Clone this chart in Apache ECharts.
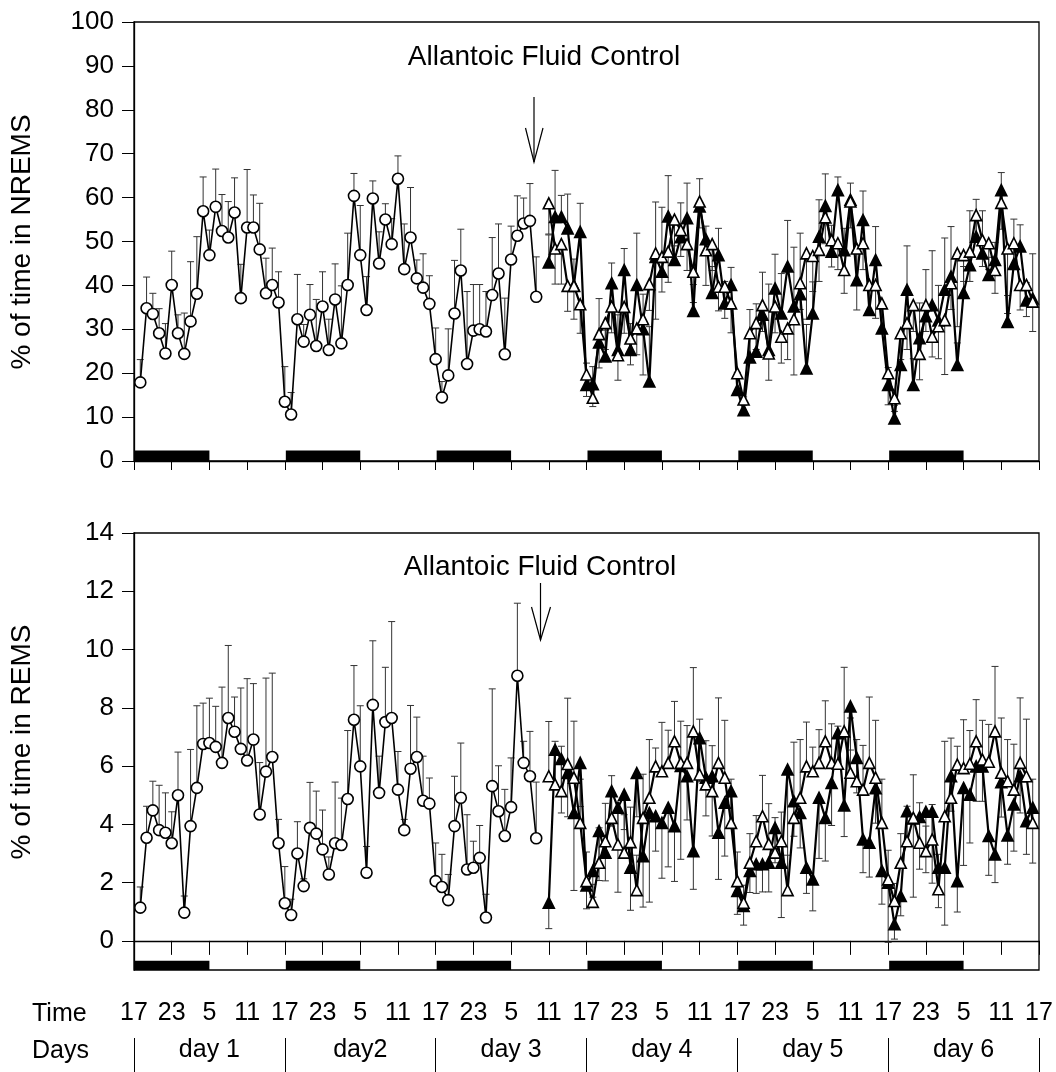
<!DOCTYPE html>
<html><head><meta charset="utf-8">
<script src="https://cdn.jsdelivr.net/npm/echarts@6/dist/echarts.min.js"></script>
<style>html,body{margin:0;padding:0;background:#fff}#c{width:1056px;height:1072px}</style>
</head><body><div id="c"></div><script>
// ---------- DATA ----------
const timeTickLabels = ['17', '23', '5', '11'];
const dayLabels = ['day 1', 'day2', 'day 3', 'day 4', 'day 5', 'day 6'];
const dayStartHours = [0, 24, 48, 72, 96, 120, 144];
const dayMidHours = [12, 36, 60, 84, 108, 132];
const darkStartHours = [0, 24, 48, 72, 96, 120];
const darkLengthHours = 12;
const baselineStartHour = 1;   // circles: hours 1..64
const treatStartHour = 66;     // triangles: hours 66..143
const remsTicks = [0, 2, 4, 6, 8, 10, 12, 14];

// NREMS (% of time) – baseline circles
const nremsBaseline = [17.9,34.8,33.5,29.1,24.5,40.1,29.1,24.4,31.8,38.1,56.9,46.9,57.9,52.4,50.9,56.6,37.1,53.2,53.2,48.2,38.2,40.1,36.1,13.5,10.6,32.3,27.2,33.3,26.2,35.2,25.3,36.8,26.8,40.1,60.4,46.9,34.4,59.8,45.0,55.0,49.4,64.3,43.7,50.9,41.6,39.5,35.8,23.2,14.5,19.5,33.6,43.4,22.1,29.7,30.0,29.5,37.8,42.7,24.3,45.9,51.3,54.1,54.7,37.4];
const nremsBaselineErr = [5.2,7.1,4.7,5.6,6.8,7.7,4.2,9.3,13.6,13.0,7.8,5.7,8.6,8.3,8.2,7.9,7.7,13.2,7.4,10.5,8.0,8.4,7.0,8.0,5.0,10.2,3.9,6.9,10.6,7.9,7.0,8.1,13.1,11.8,5.1,11.3,7.6,4.0,7.2,3.6,5.8,5.2,10.3,11.4,4.2,7.7,6.4,7.1,3.6,10.6,12.1,9.4,16.5,10.5,10.2,9.1,13.1,11.3,12.8,7.6,9.1,5.8,8.5,9.1];
// NREMS – open triangles
const nremsOpen = [58.7,48.4,49.4,39.9,39.9,35.7,19.7,14.4,28.9,31.4,35.2,24.1,35.1,27.9,30.2,32.3,40.3,47.3,46.5,47.7,55.0,52.6,49.4,43.1,59.1,48.0,49.4,39.7,39.7,35.9,20.0,14.0,29.1,31.4,35.5,24.5,35.2,28.3,30.2,32.3,40.5,47.3,46.7,48.1,55.5,50.3,49.6,43.5,59.1,48.4,49.6,40.1,40.1,35.9,20.0,14.3,29.1,31.4,35.5,24.4,35.5,28.3,30.7,32.1,40.5,47.3,46.9,47.7,56.0,50.3,49.6,43.5,58.8,48.4,49.6,40.1,40.1,36.3];
const nremsOpenErr = [7,8.1,9.1,5.8,7.6,6.6,5,2,7.7,6,6,5.7,6,6,6,12.7,6,15,8.0,7.0,6,6,6,7,6,8.0,6,5.5,7.2,6.7,5,1.3,6,6,6,6.1,6,6,7.1,12.7,6,15,8.1,7.2,6,6.1,6,5.3,6,14,6,6,7.6,6,7.2,3,6,6,6,5.9,6,4.6,7.4,12.4,6,16.7,6,6.8,6,6,6,5.3,6,14.8,6,5.7,7.2,6.8];
// NREMS – filled triangles
const nremsFilled = [45.2,55.6,55.6,53.0,40.0,52.2,17.3,17.5,27,23.8,40.5,25.3,43.5,25.3,40.1,30.0,18.1,46.5,43.1,55.7,45.8,51.0,55.3,34.2,58.0,50.5,38.3,46.9,35.9,40.1,16.2,11.6,23.6,24.9,33.3,25.3,39.3,33.6,44.3,35.2,38,21.1,33.6,51.1,58.1,47.7,61.7,48,59.5,41.2,54.9,34.4,45.8,30.2,17.3,9.7,21.9,39.0,17.3,28,33,35.5,32,39.0,42.0,21.9,38.3,44.6,51.1,47.3,42.4,45.8,61.7,31.7,44.9,48.9,36.6,37];
const nremsFilledErr = [6.3,10.6,4.9,7.8,6,6.5,5,4,10,6,4.6,8,4.9,6,11.8,8,12.5,12.5,14.7,9.3,8,7.8,8.0,6,6.3,3,6,6.1,5,4,4,3,10.9,10.9,9.7,15,7.8,9.1,10.5,13.5,13.9,10,7.2,8.4,7.3,6,3,5,3.8,6,6.6,5,7.6,5,4,3,6,10,6,8,10.6,12.4,8,11.8,11.4,5,6,12.4,8.5,9.7,4,4,4.0,6,10.2,4.9,4,10.2];

// REMS (% of time) – baseline circles
const remsBaseline = [1.14,3.54,4.48,3.80,3.71,3.35,5.0,0.97,3.94,5.25,6.76,6.79,6.66,6.11,7.65,7.18,6.59,6.19,6.91,4.34,5.81,6.31,3.35,1.29,0.89,3.0,1.88,3.88,3.68,3.14,2.28,3.35,3.29,4.87,7.59,5.99,2.34,8.1,5.08,7.51,7.65,5.19,3.80,5.91,6.31,4.81,4.71,2.05,1.85,1.40,3.94,4.91,2.45,2.51,2.85,0.80,5.31,4.45,3.60,4.59,9.1,6.11,5.65,3.52];
const remsBaselineErr = [0.71,1.08,1.0,1.54,1.37,1.08,1.48,0.57,2.63,2.82,1.40,1.54,1.39,2.6,2.49,1.19,2.09,2.81,1.92,1.78,3.21,2.88,0.82,1.26,0.54,1.09,0.25,1.56,1.46,1.35,0.6,2.1,1.61,2.35,1.86,2.08,0.9,2.2,1.26,1.88,3.31,1.31,0.37,2.17,1.37,1.53,0.88,1.31,1.12,0.88,1.71,1.88,1.88,0.91,1.11,0.8,3.34,1.56,1.6,1.69,2.49,0.74,1.54,1.93];
// REMS – open triangles
const remsOpen = [5.65,5.37,5.14,6.07,5.6,4.05,2.05,1.34,2.68,3.42,4.22,3.31,3.03,3.39,1.74,4.22,4.91,5.99,5.82,6.11,6.85,6.11,6.11,7.19,5.71,5.37,5.14,6.11,5.6,4.05,2.05,1.31,2.68,3.42,4.28,3.33,3.03,3.42,1.74,4.22,4.91,5.99,5.82,6.11,6.85,6.11,6.08,7.19,5.77,5.48,5.19,6.11,5.6,4.05,2.11,1.37,2.68,3.42,4.22,3.37,3.08,3.48,1.77,4.28,4.91,6.05,5.93,6.08,6.85,6.22,6.15,7.19,5.77,5.48,5.19,6.11,5.65,4.05];
const remsOpenErr = [1.88,1.48,1.54,2.26,1.94,1.5,1.0,0.6,1.2,1.3,1.45,1.2,1.3,1.2,1.2,1.5,2.0,0.63,1.68,1.12,1.37,1.43,1.28,2.19,1.9,1.5,1.56,2.23,1.97,1.5,1.0,0.6,1.0,0.88,1.4,1.38,1.2,1.0,1.2,2.6,2.0,1.52,0.83,1.14,1.39,1.34,1.29,2.2,1.88,1.43,1.52,2.26,1.97,1.5,1.0,0.6,1.0,1.2,1.48,1.37,0.86,1.2,1.2,2.57,2.05,0.63,1.66,1.14,1.43,1.35,1.28,2.23,1.88,1.43,1.56,2.23,1.96,1.5];
// REMS – filled triangles
const remsFilled = [1.31,6.56,6.24,5.76,4.39,6.11,1.9,2.4,3.77,3.03,5.14,4.57,5.02,2.51,5.76,2.91,4.39,4.28,4.05,4.57,3.94,6.0,5.65,3.08,6.96,5.6,5.65,3.71,4.74,5.14,1.71,1.2,2.40,2.63,2.63,2.68,3.88,2.68,5.88,4.79,4.39,2.51,2.11,4.91,4.22,5.42,7.13,4.65,8.05,6.28,3.48,3.37,5.24,2.40,2.0,0.57,1.54,4.45,4.2,4.25,4.43,4.43,2.51,2.51,5.65,2.05,5.25,5.02,5.99,5.99,3.60,2.97,5.45,3.62,4.68,5.65,4.11,4.57];
const remsFilledErr = [0.89,1.2,1.85,1.5,2.66,1.5,0.8,0.9,1.7,0.97,1.2,2.9,1.2,1.46,1.5,1.75,3.06,1.2,1.9,2.03,1.9,3.2,1.5,1.31,1.5,1.31,2.05,1.6,1.83,1.2,0.8,0.66,0.74,1.0,0.95,1.0,1.2,1.88,4.2,1.2,1.2,0.88,1.08,2.08,1.48,1.46,1.2,1.07,1.5,1.2,1.14,1.18,1.2,1.14,2.05,0.51,0.68,1.2,2.7,1.79,2.09,2.45,1.37,1.97,1.2,1.06,2.66,1.66,1.2,1.2,1.35,0.97,1.2,0.99,1.6,1.26,1.14,1.9];

// ---------- HELPERS ----------
const FONT = "'Liberation Sans', Arial, sans-serif";
function pts(start, vals) { return vals.map((v, i) => [start + i, v]); }
function errPts(start, vals, errs, dir) { return vals.map((v, i) => [start + i, v, v + dir * errs[i]]); }

function errSeries(idx, data) {
  return {
    type: 'custom', xAxisIndex: idx === 0 ? 0 : 1, yAxisIndex: idx, data: data, z: 1, silent: true,
    encode: { x: 0, y: [1, 2] },
    renderItem: function (params, api) {
      const x = api.value(0), v0 = api.value(1), v1 = api.value(2);
      const p0 = api.coord([x, v0]), p1 = api.coord([x, v1]);
      const w = 3.5;
      return { type: 'group', children: [
        { type: 'line', shape: { x1: p0[0], y1: p0[1], x2: p1[0], y2: p1[1] }, style: { stroke: '#333', lineWidth: 1 } },
        { type: 'line', shape: { x1: p1[0] - w, y1: p1[1], x2: p1[0] + w, y2: p1[1] }, style: { stroke: '#333', lineWidth: 1 } }
      ] };
    }
  };
}
function darkSeries(idx, yLow, yHigh) {
  return {
    type: 'custom', xAxisIndex: idx === 0 ? 0 : 1, yAxisIndex: idx, z: 1, silent: true,
    data: darkStartHours.map(s => [s, s + darkLengthHours]),
    encode: { x: [0, 1] },
    renderItem: function (params, api) {
      const a = api.coord([api.value(0), yHigh]), b = api.coord([api.value(1), yLow]);
      return { type: 'rect', shape: { x: a[0] + 1, y: a[1], width: b[0] - a[0] - 1, height: b[1] - a[1] }, style: { fill: '#000' } };
    }
  };
}
function lineSeries(idx, data, symbol, fill, lw, z) {
  return {
    type: 'line', xAxisIndex: idx === 0 ? 0 : 1, yAxisIndex: idx, data: data, z: z,
    symbol: symbol, symbolSize: 11, showAllSymbol: true, animation: false,
    lineStyle: { color: '#000', width: lw },
    itemStyle: { color: fill, borderColor: '#000', borderWidth: 1.6 }
  };
}

const xBase = {
  type: 'value', min: 0, max: 144, interval: 6,
  axisLine: { show: true, lineStyle: { color: '#000', width: 1.3 } },
  splitLine: { show: false }
};

const option = {
  animation: false,
  backgroundColor: '#fff',
  grid: [
    { left: 134, right: 17, top: 22, height: 439, show: true, borderColor: '#000', borderWidth: 1.3, backgroundColor: 'transparent' },
    { left: 134, right: 17, top: 533, height: 437, show: true, borderColor: '#000', borderWidth: 1.3, backgroundColor: 'transparent' }
  ],
  xAxis: [
    Object.assign({}, xBase, { gridIndex: 0, axisTick: { show: true, length: 9, lineStyle: { color: '#000' } }, axisLabel: { show: false } }),
    Object.assign({}, xBase, { gridIndex: 1, axisTick: { show: true, length: 14, lineStyle: { color: '#000' } },
      axisLabel: { show: true, margin: 31, fontSize: 25, fontFamily: FONT, color: '#000',
        formatter: v => timeTickLabels[Math.round(v / 6) % 4] } }),
    { type: 'value', gridIndex: 1, min: 0, max: 144, position: 'bottom', offset: 68,
      axisLine: { show: false }, splitLine: { show: false },
      axisTick: { show: true, customValues: dayStartHours, length: 34, lineStyle: { color: '#000' } },
      axisLabel: { show: true, customValues: dayMidHours, margin: 0, fontSize: 25, fontFamily: FONT, color: '#000',
        formatter: v => dayLabels[Math.round((v - 12) / 24)] } }
  ],
  yAxis: [
    { type: 'value', gridIndex: 0, min: 0, max: 100, interval: 10,
      axisLine: { show: true, lineStyle: { color: '#000', width: 1.3 } },
      axisTick: { show: true, length: 12, lineStyle: { color: '#000' } },
      axisLabel: { margin: 20, fontSize: 26, fontFamily: FONT, color: '#000' },
      splitLine: { show: false } },
    { type: 'value', gridIndex: 1, min: -1, max: 14,
      axisLine: { show: true, lineStyle: { color: '#000', width: 1.3 } },
      axisTick: { show: true, length: 12, customValues: remsTicks, lineStyle: { color: '#000' } },
      axisLabel: { margin: 20, fontSize: 26, fontFamily: FONT, color: '#000', customValues: remsTicks },
      splitLine: { show: false } }
  ],
  series: [
    darkSeries(0, 0, 2.4),
    darkSeries(1, -1, -0.68),
    errSeries(0, errPts(baselineStartHour, nremsBaseline, nremsBaselineErr, 1)),
    errSeries(0, errPts(treatStartHour, nremsFilled, nremsFilledErr, 1)),
    errSeries(0, errPts(treatStartHour, nremsOpen, nremsOpenErr, -1)),
    errSeries(1, errPts(baselineStartHour, remsBaseline, remsBaselineErr, 1)),
    errSeries(1, errPts(treatStartHour, remsOpen, remsOpenErr, 1)),
    errSeries(1, errPts(treatStartHour, remsFilled, remsFilledErr, -1)),
    lineSeries(0, pts(baselineStartHour, nremsBaseline), 'circle', '#fff', 1.6, 3),
    lineSeries(0, pts(treatStartHour, nremsFilled), 'triangle', '#000', 2.2, 3),
    lineSeries(0, pts(treatStartHour, nremsOpen), 'triangle', '#fff', 2.2, 4),
    lineSeries(1, pts(baselineStartHour, remsBaseline), 'circle', '#fff', 1.6, 3),
    lineSeries(1, pts(treatStartHour, remsFilled), 'triangle', '#000', 2.2, 3),
    lineSeries(1, pts(treatStartHour, remsOpen), 'triangle', '#fff', 2.2, 4)
  ],
  graphic: [
    { type: 'text', x: 22, y: 242, rotation: Math.PI / 2, style: { text: '% of time in NREMS', font: '28px ' + FONT, fill: '#000', align: 'center', verticalAlign: 'middle' } },
    { type: 'text', x: 22, y: 742, rotation: Math.PI / 2, style: { text: '% of time in REMS', font: '28px ' + FONT, fill: '#000', align: 'center', verticalAlign: 'middle' } },
    { type: 'text', x: 544, y: 57, style: { text: 'Allantoic Fluid Control', font: '28px ' + FONT, fill: '#000', align: 'center', verticalAlign: 'middle' } },
    { type: 'text', x: 540, y: 567, style: { text: 'Allantoic Fluid Control', font: '28px ' + FONT, fill: '#000', align: 'center', verticalAlign: 'middle' } },
    { type: 'text', x: 32, y: 1014, style: { text: 'Time', font: '25px ' + FONT, fill: '#000', align: 'left', verticalAlign: 'middle' } },
    { type: 'text', x: 32, y: 1051, style: { text: 'Days', font: '25px ' + FONT, fill: '#000', align: 'left', verticalAlign: 'middle' } },
    { type: 'polyline', shape: { points: [[534, 97], [534, 162]] }, style: { stroke: '#000', lineWidth: 1.2, fill: null } },
    { type: 'polyline', shape: { points: [[525.5, 128], [534, 162], [543, 128]] }, style: { stroke: '#000', lineWidth: 1.2, fill: null } },
    { type: 'polyline', shape: { points: [[540.5, 583], [540.5, 640]] }, style: { stroke: '#000', lineWidth: 1.2, fill: null } },
    { type: 'polyline', shape: { points: [[531.5, 607], [540.5, 640], [550.5, 607]] }, style: { stroke: '#000', lineWidth: 1.2, fill: null } }
  ]
};
const chart = echarts.init(document.getElementById('c'), null, { renderer: 'canvas' });
chart.setOption(option);
</script></body></html>
